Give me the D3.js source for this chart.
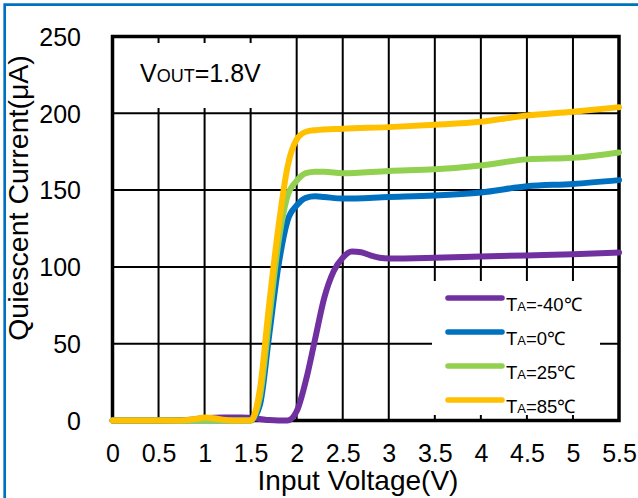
<!DOCTYPE html>
<html>
<head>
<meta charset="utf-8">
<script src="https://cdn.jsdelivr.net/npm/d3@7"></script>
<style>
  html, body { margin: 0; padding: 0; background: #fff; }
  svg { display: block; }
  text { font-family: "Liberation Sans", Arial, sans-serif; fill: #000; }
</style>
</head>
<body>
<svg id="chart" width="638" height="498"></svg>
<script>
// Quiescent current vs. input voltage at four ambient temperatures (VOUT = 1.8 V)
const xTicks = [0, 0.5, 1, 1.5, 2, 2.5, 3, 3.5, 4, 4.5, 5, 5.5];
const xTickLabels = ["0", "0.5", "1", "1.5", "2", "2.5", "3", "3.5", "4", "4.5", "5", "5.5"];
const yTicks = [0, 50, 100, 150, 200, 250];
const yTickLabels = ["0", "50", "100", "150", "200", "250"];

const seriesNames = ["-40℃", "0℃", "25℃", "85℃"];
const seriesColors = ["#7030A0", "#0070C0", "#92D050", "#FFC000"];

// [input voltage (V), quiescent current (µA)]
const tempMinus40 = [
  [0, 0], [0.5, 0], [0.8, 0.3], [1.0, 1.5], [1.2, 2], [1.4, 2], [1.5, 1.6], [1.6, 1], [1.7, 0.3],
  [1.8, 0], [1.9, 0], [2.0, 6], [2.1, 26], [2.2, 53], [2.3, 80], [2.4, 97], [2.5, 106],
  [2.6, 110], [2.7, 109.5], [2.8, 107.5], [2.9, 106], [3.0, 105.5], [3.5, 106],
  [4.0, 106.8], [4.5, 107.5], [5.0, 108.2], [5.5, 109.3]
];
const temp0 = [
  [0, 0], [0.5, 0], [1.0, 0], [1.5, 0], [1.6, 10], [1.7, 55], [1.8, 100], [1.9, 130],
  [2.0, 140], [2.1, 145], [2.2, 146], [2.3, 145.5], [2.5, 144.5], [3.0, 145.5],
  [3.5, 146.5], [4.0, 148.5], [4.5, 152.5], [5.0, 154], [5.5, 156.5]
];
const temp25 = [
  [0, 0], [0.5, 0], [1.0, 0], [1.5, 0], [1.6, 15], [1.7, 65], [1.8, 115], [1.9, 146],
  [2.0, 156], [2.1, 161], [2.2, 162], [2.3, 162], [2.5, 161], [3.0, 162.5],
  [3.5, 163.5], [4.0, 166], [4.5, 170], [5.0, 171], [5.5, 174.5]
];
const temp85 = [
  [0, 0], [0.5, 0], [0.7, 0], [0.9, 1], [1.0, 2], [1.1, 1.5], [1.2, 0.5], [1.3, 0],
  [1.5, 0], [1.6, 20], [1.7, 75], [1.8, 125], [1.9, 165], [2.0, 183], [2.1, 188],
  [2.2, 189], [2.5, 190], [3.0, 191], [3.5, 192.5], [4.0, 194.5], [4.5, 198.5],
  [5.0, 201], [5.5, 204]
];
const seriesData = [tempMinus40, temp0, temp25, temp85];

const svg = d3.select("#chart");
const plot = { left: 112.5, right: 619, top: 36.5, bottom: 420.5 };

const x = d3.scaleLinear().domain([0, 5.5]).range([plot.left, plot.right]);
const y = d3.scaleLinear().domain([0, 250]).range([plot.bottom, plot.top]);

// outer frame (only top and left edges fall inside the page)
svg.append("path")
  .attr("d", "M4.7,498 L4.7,4.7 L638,4.7")
  .attr("fill", "none").attr("stroke", "#0070C0").attr("stroke-width", 2.7);

// grid
const grid = svg.append("g");
grid.selectAll("line.v").data(xTicks.slice(1, -1)).join("line")
  .attr("x1", d => x(d)).attr("x2", d => x(d))
  .attr("y1", plot.top).attr("y2", plot.bottom)
  .attr("stroke", "#000").attr("stroke-width", 2);
grid.selectAll("line.h").data(yTicks.slice(1, -1)).join("line")
  .attr("x1", plot.left).attr("x2", plot.right)
  .attr("y1", d => y(d)).attr("y2", d => y(d))
  .attr("stroke", "#000").attr("stroke-width", 2);

// white boxes behind the annotation and the legend
svg.append("rect").attr("x", plot.left + 2).attr("y", 43)
  .attr("width", 292 - plot.left - 2).attr("height", 65).attr("fill", "#fff");
svg.append("rect").attr("x", 432).attr("y", 281)
  .attr("width", 168).attr("height", 134).attr("fill", "#fff");

// plot frame
svg.append("rect")
  .attr("x", plot.left).attr("y", plot.top)
  .attr("width", plot.right - plot.left).attr("height", plot.bottom - plot.top)
  .attr("fill", "none").attr("stroke", "#000").attr("stroke-width", 3.5);

// tick labels via d3 axes (lines hidden, text only)
const xAxis = d3.axisBottom(x).tickValues(xTicks)
  .tickFormat((d, i) => xTickLabels[i]).tickSize(0).tickPadding(0);
const gx = svg.append("g").attr("transform", `translate(0,${plot.bottom})`).call(xAxis);
gx.select(".domain").remove();
gx.selectAll("text").attr("font-size", 25).attr("dy", null).attr("y", 41)
  .attr("font-family", '"Liberation Sans", Arial, sans-serif').attr("fill", "#000");

const yAxis = d3.axisLeft(y).tickValues(yTicks)
  .tickFormat((d, i) => yTickLabels[i]).tickSize(0).tickPadding(0);
const gy = svg.append("g").attr("transform", `translate(81,0)`).call(yAxis);
gy.select(".domain").remove();
gy.selectAll("text").attr("font-size", 25).attr("x", 0).attr("dy", "0.35em")
  .attr("font-family", '"Liberation Sans", Arial, sans-serif').attr("fill", "#000");

// axis titles
svg.append("text").attr("x", 358).attr("y", 490)
  .attr("text-anchor", "middle").attr("font-size", 28).text("Input Voltage(V)");
svg.append("text").attr("transform", "translate(28,198) rotate(-90)")
  .attr("text-anchor", "middle").attr("font-size", 28.5).text("Quiescent Current(μA)");

// series lines
const line = d3.line()
  .x(d => x(d[0])).y(d => y(d[1]))
  .curve(d3.curveMonotoneX);
svg.append("g").selectAll("path").data(seriesData).join("path")
  .attr("d", line)
  .attr("fill", "none")
  .attr("stroke", (d, i) => seriesColors[i])
  .attr("stroke-width", 6)
  .attr("stroke-linejoin", "round")
  .attr("stroke-linecap", "round");

// annotation
const note = svg.append("text").attr("x", 140).attr("y", 82).attr("font-size", 25);
note.append("tspan").text("V");
note.append("tspan").attr("font-size", 18).text("OUT");
note.append("tspan").text("=1.8V");

// legend
const legendRowY = [298, 332, 366, 400];
const legend = svg.append("g");
seriesNames.forEach((name, i) => {
  legend.append("line")
    .attr("x1", 448).attr("x2", 502)
    .attr("y1", legendRowY[i]).attr("y2", legendRowY[i])
    .attr("stroke", seriesColors[i]).attr("stroke-width", 5.5)
    .attr("stroke-linecap", "round");
  const t = legend.append("text").attr("x", 506).attr("y", legendRowY[i] + 13)
    .attr("font-size", 18.5);
  t.append("tspan").text("T");
  t.append("tspan").attr("font-size", 13).text("A");
  t.append("tspan").text("=" + name);
});
</script>
</body>
</html>
